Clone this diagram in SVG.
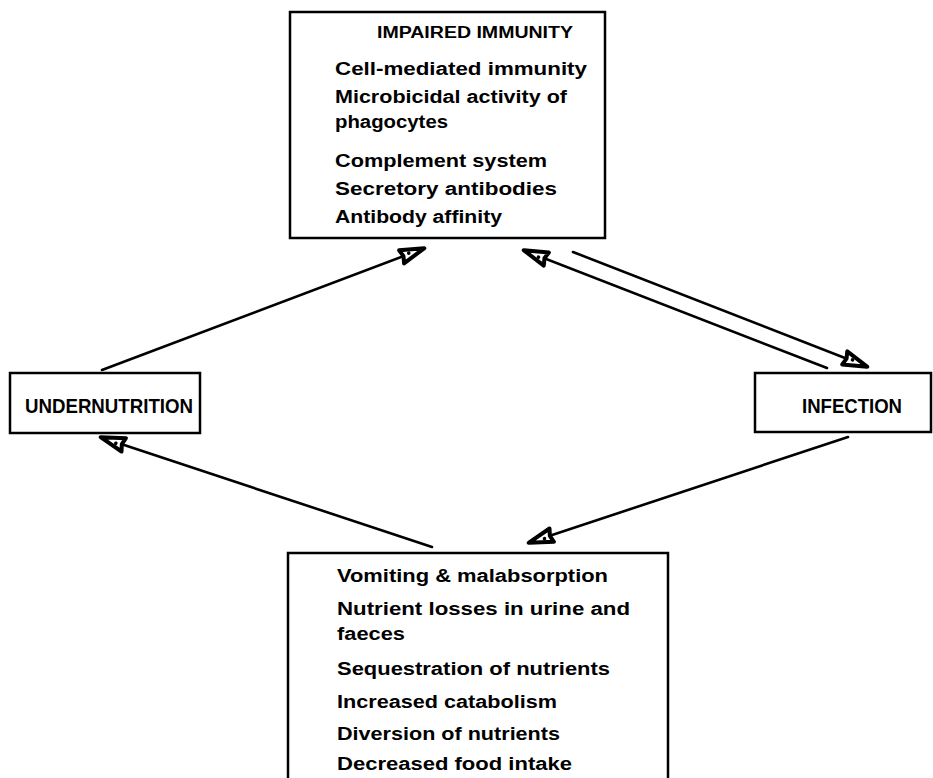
<svg xmlns="http://www.w3.org/2000/svg" width="933" height="778" viewBox="0 0 933 778">
<style>
.box{fill:#fff;stroke:#000;stroke-width:2.5}
.t{font-family:"Liberation Sans","DejaVu Sans",sans-serif;font-weight:bold;fill:#000}
.b{font-size:18px}
.h{font-size:16px}
.n{font-size:20px}
.c{fill:none;stroke:#000;stroke-width:2.6;stroke-linecap:round}
</style>
<defs>
<marker id="ah" markerUnits="userSpaceOnUse" markerWidth="40" markerHeight="30" viewBox="-32 -15 40 30" refX="0" refY="0" orient="auto" overflow="visible">
<path d="M-1,0 L-25,-7 L-23,0 L-25,7 Z" fill="#fff" stroke="#000" stroke-width="4" stroke-linejoin="round"/>
<circle cx="-17" cy="-1" r="1.8" fill="#000"/>
</marker>
</defs>
<g id="connectors">
<line class="c" x1="102" y1="370" x2="425" y2="248" marker-end="url(#ah)"/>
<line class="c" x1="573" y1="252" x2="868" y2="367" marker-end="url(#ah)"/>
<line class="c" x1="827" y1="368" x2="523" y2="250" marker-end="url(#ah)"/>
<line class="c" x1="848" y1="437" x2="528" y2="543" marker-end="url(#ah)"/>
<line class="c" x1="432" y1="547" x2="100" y2="437" marker-end="url(#ah)"/>
</g>
<g id="impaired-immunity">
<rect class="box" x="290" y="12" width="315" height="226"/>
<text class="t h" x="377" y="38" textLength="196" lengthAdjust="spacingAndGlyphs">IMPAIRED IMMUNITY</text>
<text class="t b" x="335" y="75" textLength="252" lengthAdjust="spacingAndGlyphs">Cell-mediated immunity</text>
<text class="t b" x="335" y="103" textLength="232" lengthAdjust="spacingAndGlyphs">Microbicidal activity of</text>
<text class="t b" x="335" y="128" textLength="113" lengthAdjust="spacingAndGlyphs">phagocytes</text>
<text class="t b" x="335" y="167" textLength="212" lengthAdjust="spacingAndGlyphs">Complement system</text>
<text class="t b" x="335" y="195" textLength="222" lengthAdjust="spacingAndGlyphs">Secretory antibodies</text>
<text class="t b" x="335" y="223" textLength="167" lengthAdjust="spacingAndGlyphs">Antibody affinity</text>
</g>
<g id="undernutrition">
<rect class="box" x="10" y="373" width="190" height="60"/>
<text class="t n" x="25" y="413" textLength="168" lengthAdjust="spacingAndGlyphs">UNDERNUTRITION</text>
</g>
<g id="infection">
<rect class="box" x="755" y="373" width="176" height="59"/>
<text class="t n" x="802" y="413" textLength="100" lengthAdjust="spacingAndGlyphs">INFECTION</text>
</g>
<g id="consequences">
<rect class="box" x="288" y="553" width="380" height="240"/>
<text class="t b" x="337" y="582" textLength="271" lengthAdjust="spacingAndGlyphs">Vomiting &amp; malabsorption</text>
<text class="t b" x="337" y="615" textLength="293" lengthAdjust="spacingAndGlyphs">Nutrient losses in urine and</text>
<text class="t b" x="337" y="640" textLength="68" lengthAdjust="spacingAndGlyphs">faeces</text>
<text class="t b" x="337" y="675" textLength="273" lengthAdjust="spacingAndGlyphs">Sequestration of nutrients</text>
<text class="t b" x="337" y="708" textLength="220" lengthAdjust="spacingAndGlyphs">Increased catabolism</text>
<text class="t b" x="337" y="740" textLength="223" lengthAdjust="spacingAndGlyphs">Diversion of nutrients</text>
<text class="t b" x="337" y="770" textLength="235" lengthAdjust="spacingAndGlyphs">Decreased food intake</text>
</g>
</svg>
